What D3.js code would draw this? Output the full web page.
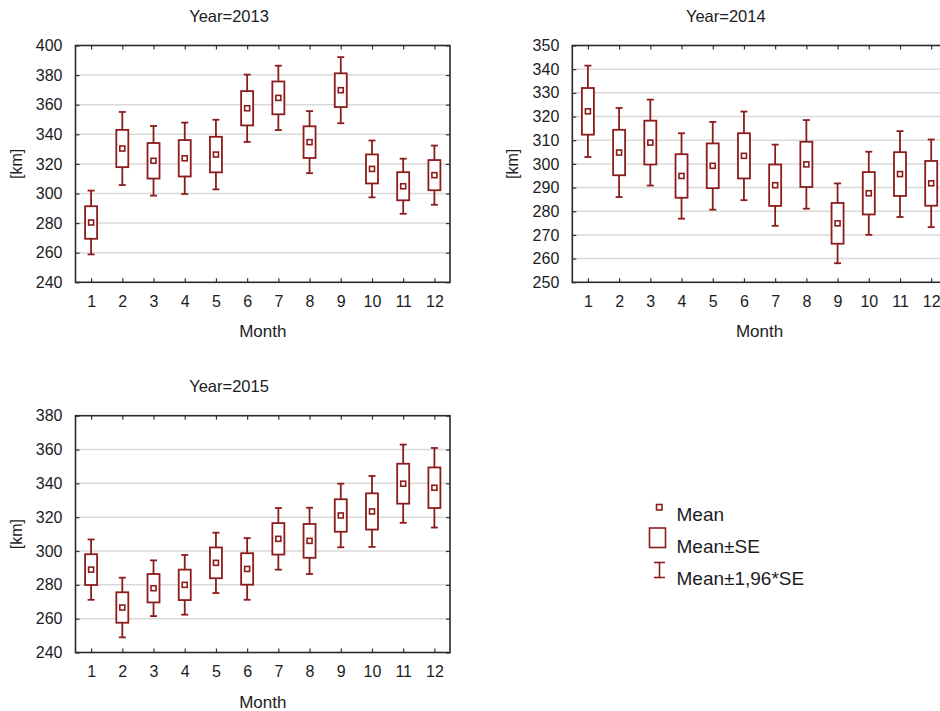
<!DOCTYPE html>
<html><head><meta charset="utf-8">
<script src="https://cdn.jsdelivr.net/npm/d3@7"></script>
<style>body{margin:0;background:#fff;overflow:hidden}</style>
</head><body>
<svg id="c" width="940" height="711"></svg>
<script>
const months = [1,2,3,4,5,6,7,8,9,10,11,12];
const mean2013 = [280.4, 330.4, 322.1, 323.8, 326.3, 357.6, 364.6, 334.7, 369.8, 316.6, 304.9, 312.4];
const se2013   = [11.0, 12.6, 12.0, 12.3, 12.0, 11.6, 11.1, 10.7, 11.4, 9.8, 9.5, 10.2];
const mean2014 = [322.2, 304.8, 309.0, 294.9, 299.2, 303.4, 291.0, 299.8, 274.9, 287.6, 295.7, 291.8];
const se2014   = [9.85, 9.6, 9.25, 9.2, 9.45, 9.55, 8.75, 9.55, 8.6, 8.95, 9.25, 9.45];
const mean2015 = [289.0, 266.6, 278.0, 280.0, 293.0, 289.4, 307.2, 306.0, 321.0, 323.4, 339.8, 337.4];
const se2015   = [9.1, 9.0, 8.4, 9.0, 9.1, 9.3, 9.3, 10.0, 9.6, 10.7, 11.8, 12.0];
const yTicks2013 = [240,260,280,300,320,340,360,380,400];
const yTicks2014 = [250,260,270,280,290,300,310,320,330,340,350];
const yTicks2015 = [240,260,280,300,320,340,360,380];
const titles = ["Year=2013","Year=2014","Year=2015"];
const legendLabels = ["Mean","Mean\u00B1SE","Mean\u00B11,96*SE"];

const RED = "#8c1c1c";
const FONT = "'Liberation Sans', Arial, sans-serif";
const TXT = "#1c1c24";
const svg = d3.select("#c");

function panel(left, top, title, means, ses, ticks) {
  const W = 374.5, H = 236.8;
  const x = d3.scaleLinear().domain([0.5, 12.5]).range([left, left + W]);
  const y = d3.scaleLinear().domain([ticks[0], ticks[ticks.length-1]]).range([top + H, top]);
  const g = svg.append("g");
  // gridlines
  g.selectAll(".grid").data(ticks.slice(1, -1)).join("line")
    .attr("x1", left).attr("x2", left + W)
    .attr("y1", d => y(d)).attr("y2", d => y(d))
    .attr("stroke", "#d9d9d9").attr("stroke-width", 1.5);
  // axes with inward ticks
  const axL = d3.axisLeft(y).tickValues(ticks).tickSize(-4).tickPadding(13).tickFormat(d3.format("d"));
  const axR = d3.axisRight(y).tickValues(ticks).tickSize(-4).tickFormat("");
  const axB = d3.axisBottom(x).tickValues(months).tickSize(-4).tickPadding(13);
  const axT = d3.axisTop(x).tickValues(months).tickSize(-4).tickFormat("");
  [[axL, `translate(${left},0)`], [axR, `translate(${left+W},0)`], [axB, `translate(0,${top+H})`], [axT, `translate(0,${top})`]]
    .forEach(([ax, tr]) => {
      const a = g.append("g").attr("transform", tr).call(ax);
      a.select(".domain").remove();
      a.selectAll("line").attr("stroke", "#333").attr("stroke-width", 1.2);
      a.selectAll("text").attr("font-family", FONT).attr("font-size", 16).attr("fill", TXT);
    });
  // frame
  g.append("rect").attr("x", left).attr("y", top).attr("width", W).attr("height", H)
    .attr("fill", "none").attr("stroke", "#2a2a2a").attr("stroke-width", 1.6);
  // title & axis labels
  g.append("text").attr("x", left + 153.5).attr("y", top - 23.5).attr("text-anchor", "middle")
    .attr("font-family", FONT).attr("font-size", 16.5).attr("fill", TXT).text(title);
  g.append("text").attr("x", left + W/2).attr("y", top + H + 55).attr("text-anchor", "middle")
    .attr("font-family", FONT).attr("font-size", 17).attr("fill", TXT).text("Month");
  g.append("text").attr("transform", `translate(${left - 54},${top + H/2}) rotate(-90)`)
    .attr("text-anchor", "middle").attr("font-family", FONT).attr("font-size", 16).attr("fill", TXT).text("[km]");
  // marks
  const data = months.map((m, i) => ({m, mean: means[i], se: ses[i]}));
  const bw = 12, cw = 7, ms = 5;
  const mk = g.selectAll(".mk").data(data).join("g");
  mk.append("line").attr("x1", d => x(d.m)).attr("x2", d => x(d.m))
    .attr("y1", d => y(d.mean + 1.96*d.se)).attr("y2", d => y(d.mean + d.se))
    .attr("stroke", RED).attr("stroke-width", 1.8);
  mk.append("line").attr("x1", d => x(d.m)).attr("x2", d => x(d.m))
    .attr("y1", d => y(d.mean - d.se)).attr("y2", d => y(d.mean - 1.96*d.se))
    .attr("stroke", RED).attr("stroke-width", 1.8);
  [1.96, -1.96].forEach(k => {
    mk.append("line").attr("x1", d => x(d.m) - cw/2).attr("x2", d => x(d.m) + cw/2)
      .attr("y1", d => y(d.mean + k*d.se)).attr("y2", d => y(d.mean + k*d.se))
      .attr("stroke", RED).attr("stroke-width", 1.8);
  });
  mk.append("rect").attr("x", d => x(d.m) - bw/2).attr("width", bw)
    .attr("y", d => y(d.mean + d.se)).attr("height", d => y(d.mean - d.se) - y(d.mean + d.se))
    .attr("fill", "#fff").attr("stroke", RED).attr("stroke-width", 1.8);
  mk.append("rect").attr("x", d => x(d.m) - ms/2).attr("width", ms)
    .attr("y", d => y(d.mean) - ms/2).attr("height", ms)
    .attr("fill", "#fff").attr("stroke", RED).attr("stroke-width", 1.6);
}

panel(75.5, 45.5, titles[0], mean2013, se2013, yTicks2013);
panel(572.3, 45.5, titles[1], mean2014, se2014, yTicks2014);
panel(75.5, 415.7, titles[2], mean2015, se2015, yTicks2015);

// legend
const lg = svg.append("g");
lg.append("rect").attr("x", 656.5).attr("y", 504.5).attr("width", 5.5).attr("height", 5.5)
  .attr("fill", "#fff").attr("stroke", RED).attr("stroke-width", 1.6);
lg.append("rect").attr("x", 649.5).attr("y", 528).attr("width", 16).attr("height", 19.5)
  .attr("fill", "#fff").attr("stroke", RED).attr("stroke-width", 1.6);
lg.append("line").attr("x1", 659.5).attr("x2", 659.5).attr("y1", 562).attr("y2", 578).attr("stroke", RED).attr("stroke-width", 1.6);
lg.append("line").attr("x1", 654).attr("x2", 665).attr("y1", 562.5).attr("y2", 562.5).attr("stroke", RED).attr("stroke-width", 1.6);
lg.append("line").attr("x1", 654).attr("x2", 665).attr("y1", 577.5).attr("y2", 577.5).attr("stroke", RED).attr("stroke-width", 1.6);
const lgY = [520.5, 553, 584.5];
lg.selectAll(".lt").data(legendLabels).join("text")
  .attr("x", 676.5).attr("y", (d, i) => lgY[i])
  .attr("font-family", FONT).attr("font-size", 19).attr("fill", TXT).text(d => d);
</script>
</body></html>
